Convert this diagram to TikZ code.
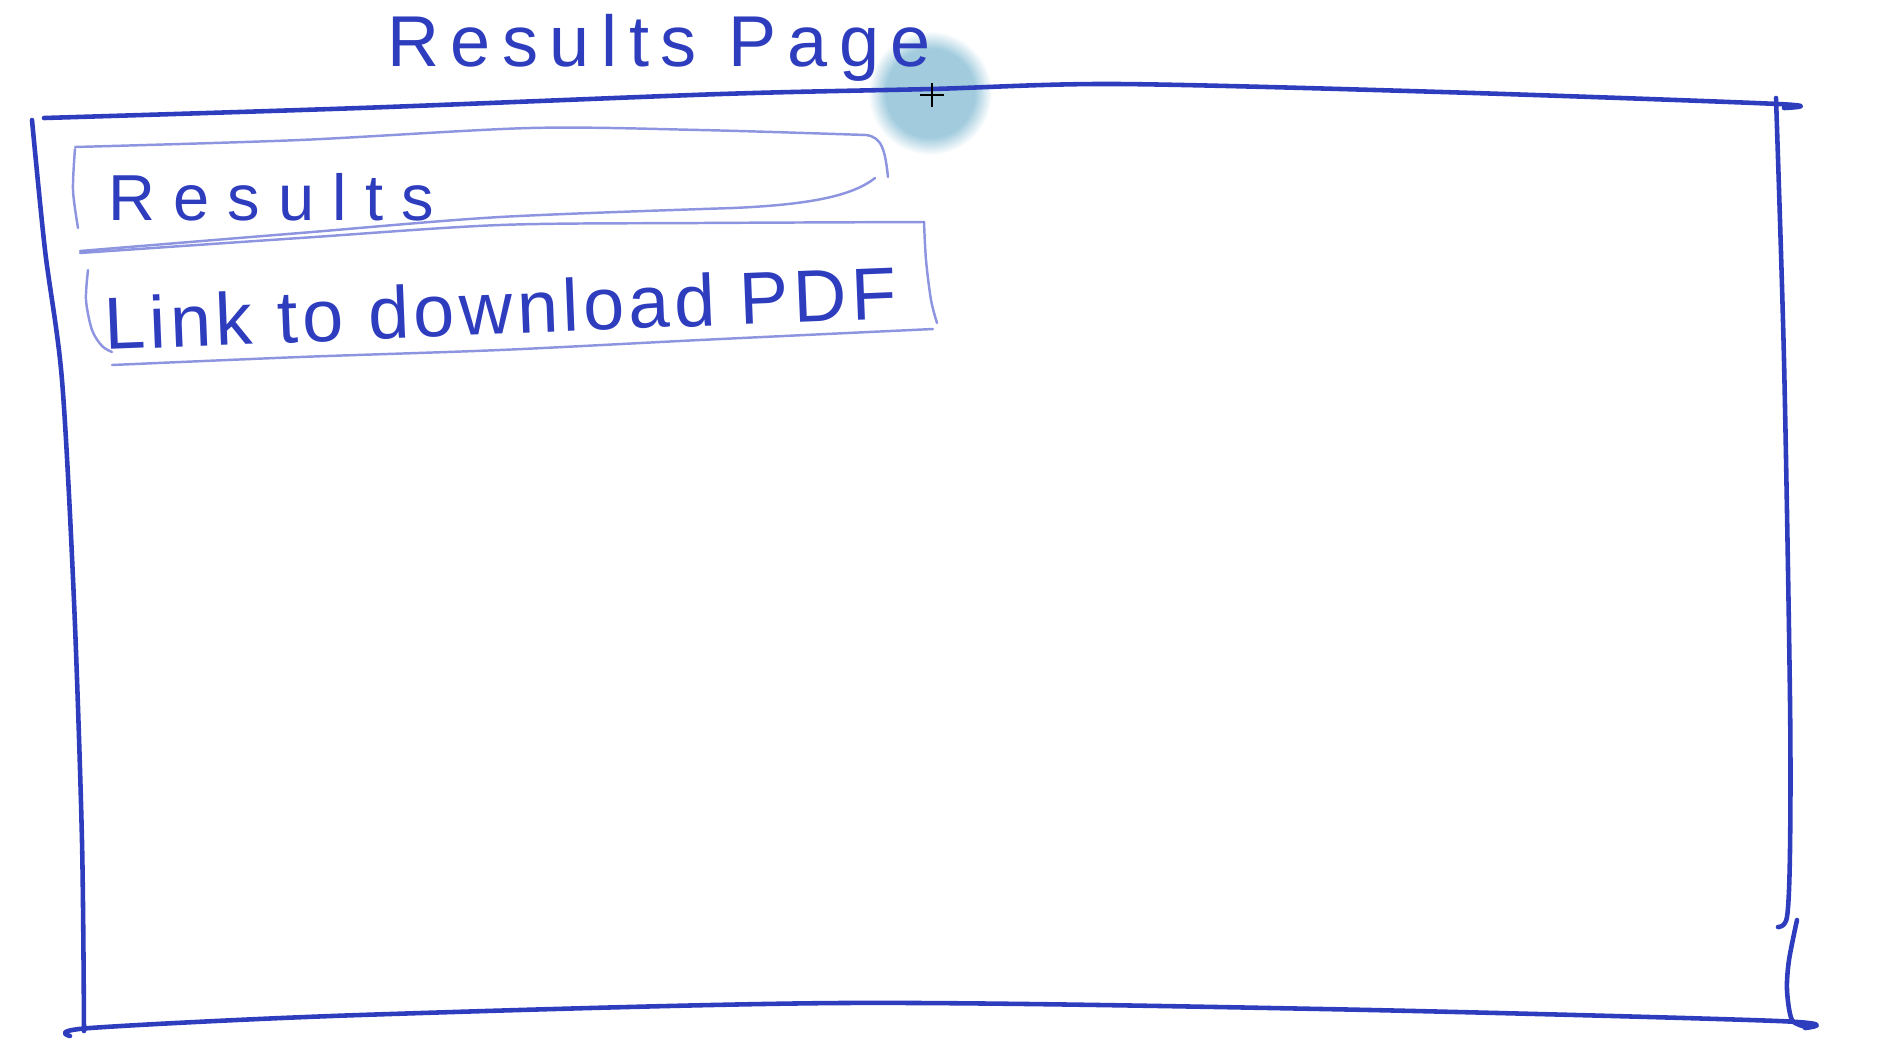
\documentclass[tikz,border=0pt]{standalone}
\usepackage{fontspec}
\setmainfont{Liberation Sans}
\definecolor{ink}{RGB}{46,60,190}
\definecolor{pencil}{RGB}{122,130,218}
\definecolor{cursorblue}{RGB}{162,204,222}
\pgfdeclareradialshading{cursorglow}{\pgfpoint{0bp}{0bp}}{color(0bp)=(cursorblue); color(18bp)=(cursorblue); color(25bp)=(white); color(50bp)=(white)}
\begin{document}
\begin{tikzpicture}[x=0.02cm, y=-0.02cm,
    frame/.style={draw=ink, line width=2.6pt, line cap=round, line join=round},
    sketchbox/.style={draw=pencil, line width=1.4pt, line cap=round, opacity=0.85},
    inktext/.style={text=ink, inner sep=0pt, anchor=base west}]
  \useasboundingbox (0,0) rectangle (1884,1046);
  % cursor glow under the pen
  \shade[shading=cursorglow] (930,93) circle (62);
  % page frame, rough strokes
  \draw[frame] plot[smooth] coordinates {(44,118) (360,108) (721,94) (931,89) (1117,84) (1442,92) (1778,104) (1784,108)};
  \draw[frame] plot[smooth] coordinates {(32,120) (45,250) (62,380) (74,601) (82,841) (84,1031)};
  \draw[frame] plot[smooth] coordinates {(70,1036) (90,1028) (360,1015) (841,1003) (1322,1009) (1778,1021) (1805,1028)};
  \draw[frame] plot[smooth] coordinates {(1776,98) (1784,360) (1790,700) (1790,850) (1787,917) (1778,927)};
  \draw[frame] plot[smooth] coordinates {(1797,920) (1789,960) (1787,990) (1792,1020) (1807,1027)};
  % results box
  \draw[sketchbox] plot[smooth] coordinates {(75,149) (73,190) (78,228)};
  \draw[sketchbox] plot[smooth] coordinates {(75,147) (300,140) (530,128) (700,130) (866,135)}
    .. controls (882,137) and (885,150) .. (888,177);
  \draw[sketchbox] (875,178) .. controls (850,198) and (800,205) .. (733,208)
    plot[smooth] coordinates {(733,208) (500,217) (300,233) (80,251)};
  % download link box
  \draw[sketchbox] plot[smooth] coordinates {(80,253) (300,238) (500,225) (700,223) (924,222)};
  \draw[sketchbox] plot[smooth] coordinates {(924,222) (926,260) (931,300) (937,323)};
  \draw[sketchbox] plot[smooth] coordinates {(933,329) (700,340) (500,350) (300,357) (112,365)};
  \draw[sketchbox] plot[smooth] coordinates {(88,270) (86,300) (92,330) (102,346) (112,352)};
  % texts
  \node[inktext, font=\fontsize{41}{48}\selectfont\addfontfeature{LetterSpace=16}] (title) at (387,66) {Results Page};
  \node[inktext, font=\fontsize{37}{44}\selectfont\addfontfeature{LetterSpace=28}] (results) at (108,220) {Results};
  \node[inktext, rotate=2.3, font=\fontsize{42}{50}\selectfont\addfontfeature{LetterSpace=6}] (link) at (105,350) {Link to download PDF};
  % pen cursor
  \coordinate (pen) at (932,95);
  \draw[black, line width=0.6pt] ([xshift=-7]pen) -- ([xshift=7]pen) ([yshift=-7]pen) -- ([yshift=7]pen);
\end{tikzpicture}
\end{document}
